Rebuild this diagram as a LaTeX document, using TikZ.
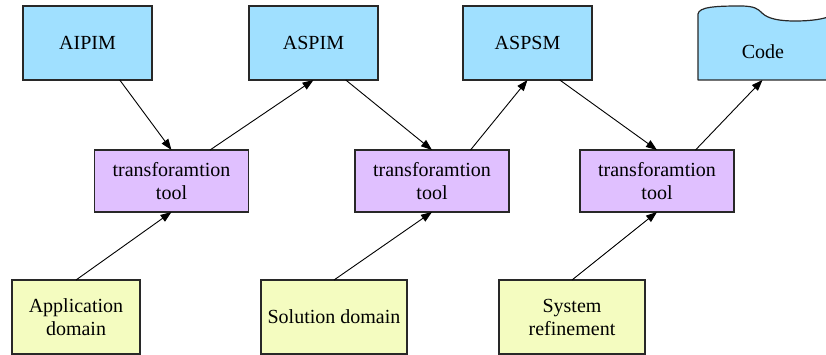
\documentclass[tikz,border=0pt]{standalone}
\usepackage{fontspec}
\setmainfont{Liberation Serif}
\usetikzlibrary{arrows.meta,calc}
\definecolor{modelblue}{RGB}{160,224,255}
\definecolor{toolviolet}{RGB}{224,192,255}
\definecolor{domainyellow}{RGB}{244,252,192}
\definecolor{edgegray}{RGB}{40,40,40}
\begin{document}
\begin{tikzpicture}[x=1pt,y=-1pt,
  labelfont/.style={font=\fontsize{20}{23}\selectfont},
  box/.style={draw=edgegray, line width=1.2pt, outer sep=0pt, inner sep=0pt, align=center, labelfont},
  modelbox/.style={box, fill=modelblue, minimum width=129pt, minimum height=74pt},
  toolbox/.style={box, fill=toolviolet, minimum width=154pt, minimum height=62pt},
  domainbox/.style={box, fill=domainyellow, minimum height=74pt},
  flow/.style={line width=0.9pt, -{Triangle[length=11pt,width=8pt]}}]
\useasboundingbox (0,0) rectangle (826,355);
\clip (0,0) rectangle (826,355);

% models
\node[modelbox] (aipim) at (87.5,43) {AIPIM};
\node[modelbox] (aspim) at (313.5,43) {ASPIM};
\node[modelbox] (aspsm) at (527.5,43) {ASPSM};
\node[minimum width=129pt, minimum height=74pt, outer sep=0pt, inner sep=0pt] (code) at (762.5,43) {};
\begin{scope}[shift={(code.north west)}]
  \draw[fill=modelblue, draw=edgegray, line width=1.2pt, line join=round]
    (0,74) -- (0,8) .. controls (1,1) and (17,0) .. (42,0)
    .. controls (57,0) and (60,3) .. (64,7)
    .. controls (70,13) and (82,15) .. (97,15)
    .. controls (114,15) and (124,13) .. (130,11) -- (130,74) -- cycle;
\end{scope}
\node[labelfont] (codelabel) at (763,52) {Code};

% transformation tools
\node[toolbox] (tool1) at (171.5,181) {transforamtion\\tool};
\node[toolbox] (tool2) at (432,181) {transforamtion\\tool};
\node[toolbox] (tool3) at (657,181) {transforamtion\\tool};

% domain inputs
\node[domainbox, minimum width=128pt] (app) at (76,317) {Application\\domain};
\node[domainbox, minimum width=146pt] (sol) at (334,317) {Solution domain};
\node[domainbox, minimum width=146pt] (sys) at (572,317) {System\\refinement};

% flow between models
\draw[flow] ($(aipim.south west)!0.75!(aipim.south east)$) -- (tool1.north);
\draw[flow] ($(tool1.north west)!0.75!(tool1.north east)$) -- (aspim.south);
\draw[flow] ($(aspim.south west)!0.75!(aspim.south east)$) -- (tool2.north);
\draw[flow] ($(tool2.north west)!0.75!(tool2.north east)$) -- (aspsm.south);
\draw[flow] ($(aspsm.south west)!0.75!(aspsm.south east)$) -- (tool3.north);
\draw[flow] ($(tool3.north west)!0.75!(tool3.north east)$) -- (code.south);

% domain knowledge into the tools
\draw[flow] (app.north) -- (tool1.south);
\draw[flow] (sol.north) -- (tool2.south);
\draw[flow] (sys.north) -- (tool3.south);
\end{tikzpicture}
\end{document}
